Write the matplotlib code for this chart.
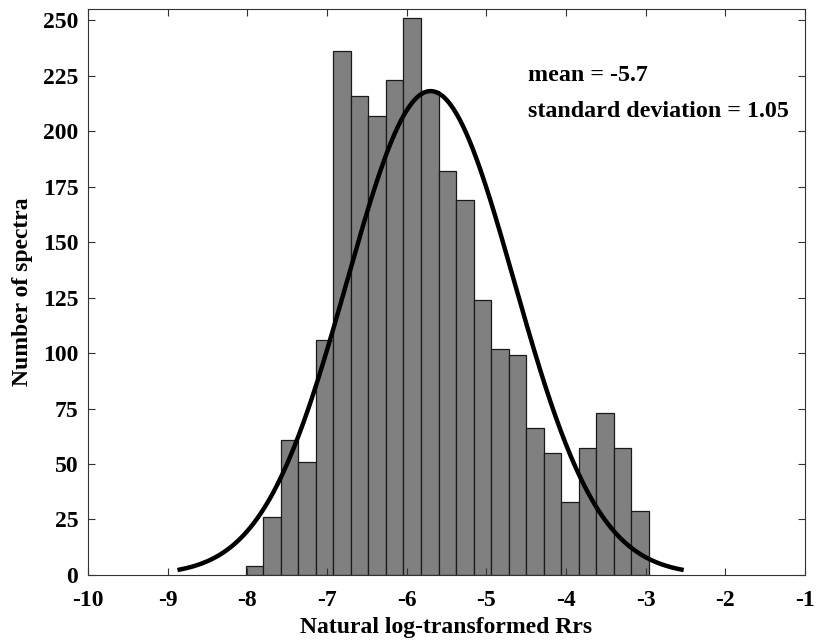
import numpy as np
from matplotlib import pyplot as plt

# Histogram of log-transformed Rrs with a fitted normal curve

# Bin layout and counts
bin_start = -8.02
bin_width = 0.22
counts = [4, 26, 61, 51, 106, 236, 216, 207, 223, 251, 218, 182,
          169, 124, 102, 99, 66, 55, 33, 57, 73, 57, 29]

# Fitted normal curve
mu = -5.7
sigma = 1.05
curve_peak = 218

x_ticks = [-10, -9, -8, -7, -6, -5, -4, -3, -2, -1]
y_ticks = [0, 25, 50, 75, 100, 125, 150, 175, 200, 225, 250]

plt.rcParams['font.family'] = ['Liberation Serif', 'DejaVu Serif']
plt.rcParams['font.weight'] = 'bold'
plt.rcParams['axes.unicode_minus'] = False

fig = plt.figure(figsize=(8.18, 6.4), dpi=100)
ax = fig.add_axes([0.1076, 0.1016, 0.8765, 0.8844])

edges = bin_start + bin_width * np.arange(len(counts) + 1)
ax.hist(edges[:-1], bins=edges, weights=counts, color='#808080',
        edgecolor='#1a1a1a', linewidth=0.9)

# normal curve over mean +- 3 sd
xc = np.linspace(mu - 3 * sigma, mu + 3 * sigma, 300)
yc = curve_peak * np.exp(-0.5 * ((xc - mu) / sigma) ** 2)
ax.plot(xc, yc, color='black', linewidth=3.2)

ax.set_xlim(-10, -1)
ax.set_ylim(0, 255)
ax.set_xticks(x_ticks)
ax.set_yticks(y_ticks)
ax.tick_params(direction='in', top=True, right=True, length=5,
               labelsize=17, color='#333333')
ax.tick_params(axis='x', pad=11)
ax.tick_params(axis='y', pad=7)
for lab in ax.get_xticklabels() + ax.get_yticklabels():
    lab.set_fontweight('bold')
for spine in ax.spines.values():
    spine.set_color('#333333')
    spine.set_linewidth(0.8)

ax.set_xlabel('Natural log-transformed Rrs', fontsize=17, fontweight='bold', labelpad=4)
ax.set_ylabel('Number of spectra', fontsize=17, fontweight='bold', labelpad=7)

ax.text(0.614, 0.882, 'mean = -5.7', transform=ax.transAxes,
        fontsize=17.3, fontweight='bold', va='center')
ax.text(0.614, 0.818, 'standard deviation = 1.05', transform=ax.transAxes,
        fontsize=17.3, fontweight='bold', va='center')

fig.savefig('out.png', dpi=100)
